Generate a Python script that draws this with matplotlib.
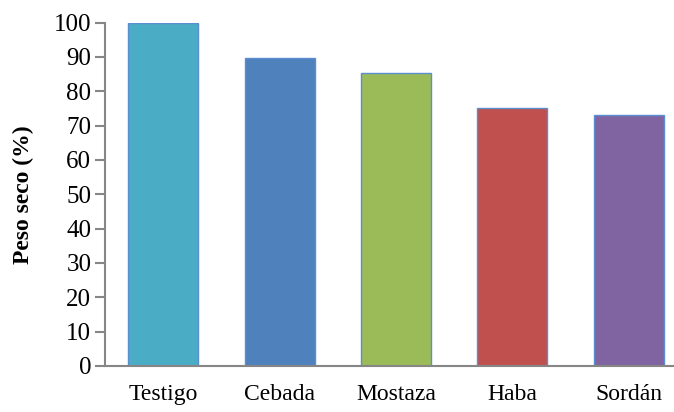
import matplotlib
matplotlib.use('Agg')
import matplotlib.pyplot as plt

# Data
categorias = ['Testigo', 'Cebada', 'Mostaza', 'Haba', 'Sordán']
peso_seco = [100, 89.6, 85.2, 75.0, 73.1]
colores = ['#4BACC6', '#4F81BD', '#9BBB59', '#C0504D', '#8064A2']
yticks = list(range(0, 101, 10))

plt.rcParams['font.family'] = ['Liberation Serif', 'DejaVu Serif']

fig = plt.figure(figsize=(6.74, 4.12), dpi=100)
ax = fig.add_axes([0.156, 0.1117, 0.844, 0.8333])

x = range(len(categorias))
ax.bar(x, peso_seco, width=0.6, color=colores, edgecolor='#5B8ED0', linewidth=1, zorder=2)

ax.set_xlim(-0.5, 4.39)
ax.set_ylim(0, 100)
ax.set_yticks(yticks)
ax.set_xticks(list(x))
ax.set_xticklabels(categorias, fontsize=17)
ax.tick_params(axis='y', labelsize=18, length=7, width=1.5, color='#868686', direction='out', pad=3)
ax.tick_params(axis='x', length=0, pad=13)

for s in ['top', 'right']:
    ax.spines[s].set_visible(False)
for s in ['left', 'bottom']:
    ax.spines[s].set_color('#868686')
    ax.spines[s].set_linewidth(1.5)

ax.set_ylabel('Peso seco (%)', fontsize=17, fontweight='bold', labelpad=14)

fig.savefig('out.png', dpi=100)
